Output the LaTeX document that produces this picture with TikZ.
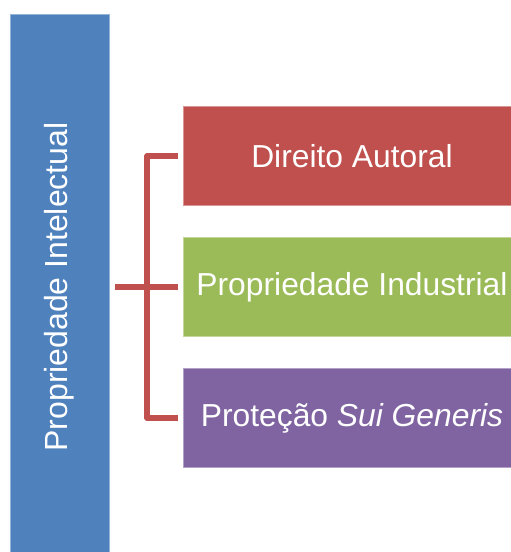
\documentclass[tikz,border=0pt]{standalone}
\usepackage{fontspec}
\setmainfont{Liberation Sans}
\usetikzlibrary{positioning}
\definecolor{piblue}{HTML}{4F81BD}
\definecolor{pired}{HTML}{C0504D}
\definecolor{pigreen}{HTML}{9BBB59}
\definecolor{pipurple}{HTML}{8064A2}
\tikzset{
    raw box/.style={rectangle, inner sep=0pt, align=center, text=white,
        font=\fontsize{31.8}{36}\selectfont, line width=0.8pt},
    main box/.style={raw box, fill=piblue, draw=piblue!60!white, minimum width=99pt, minimum height=546pt},
    sub box/.style={raw box, minimum width=338pt, minimum height=99pt},
    bracket/.style={pired, line width=5.5pt, line join=round}
}
\begin{document}
\begin{tikzpicture}[x=1pt,y=-1pt]
	\useasboundingbox (0,0) rectangle (511,552);
	\clip (0,0) rectangle (511,552);
	% left column
	\node[main box] (pi) at (59.5,287) {};
	\node[rotate=90, text=white, font=\fontsize{32}{36}\selectfont] (pitext) at (59.5,287) {Propriedade Intelectual};
	% the three branches
	\node[sub box, fill=pired, draw=pired!60!white] (da) at (352,156) {Direito Autoral};
	\node[sub box, fill=pigreen, draw=pigreen!60!white] (pind) at (352,287) {Propriedade Industrial};
	\node[sub box, fill=pipurple, draw=pipurple!60!white] (psg) at (352,418) {Proteção \textit{Sui Generis}};
	% bracket
	\coordinate (fork) at (147,287);
	\draw[bracket] ([xshift=-5pt]da.west) -| (fork) |- ([xshift=-5pt]psg.west);
	\draw[bracket] ([xshift=6pt]pi.east |- pind.west) -- ([xshift=-5pt]pind.west);
\end{tikzpicture}
\end{document}
